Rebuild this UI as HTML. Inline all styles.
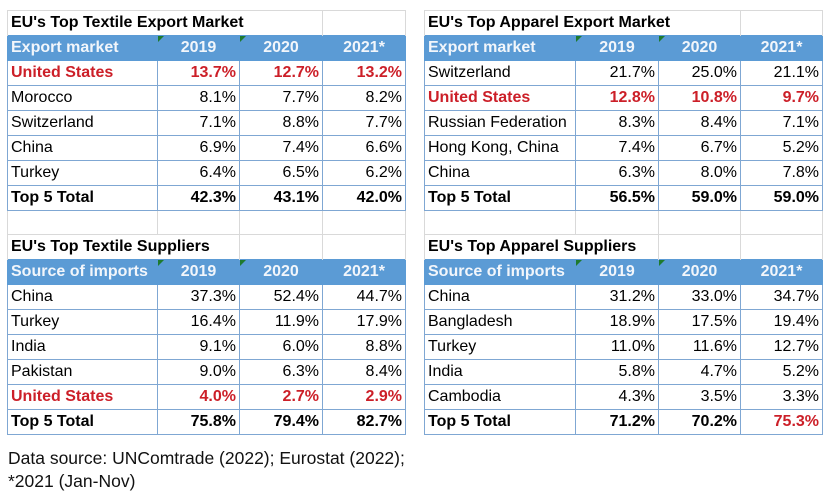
<!DOCTYPE html>
<html><head><meta charset="utf-8"><style>
body{margin:0;width:833px;height:499px;background:#fff;font-family:"Liberation Sans",sans-serif;position:relative;overflow:hidden}
table{position:absolute;border-collapse:collapse;table-layout:fixed;font-size:16px;color:#000}
td{padding:0 3px;height:24px;line-height:24px;white-space:nowrap;overflow:visible;border:1px solid #7fa7d3}
td.n{text-align:right}
tr.t td{border:1px solid #d9d9d9;border-bottom:none;font-weight:bold;height:23px}
tr.b td{border:1px solid #d9d9d9;border-top:none;border-bottom:none;height:23px}
tr.h td{background:#5b9bd5;color:#f2f6fb;font-weight:bold;border-color:#5b9bd5;position:relative}
tr.h td.c{text-align:center}
tr.r td{color:#cc1f28;font-weight:bold}
tr.s td{font-weight:bold}
td.red{color:#cc1f28}
.tri{position:absolute;left:0;top:0;width:0;height:0;border-top:6px solid #1e7a2e;border-right:6px solid transparent}
.foot{position:absolute;left:8px;font-size:17.5px;color:#111}
</style></head><body>

<table style="left:7px;top:10px;width:398px">
<colgroup><col style="width:150px"><col style="width:82px"><col style="width:83px"><col style="width:83px"></colgroup>
<tr class="t"><td colspan="3" style="border-right:1px solid #d9d9d9">EU's Top Textile Export Market</td><td></td></tr>
<tr class="h"><td>Export market</td><td class="c"><span class="tri"></span>2019</td><td class="c"><span class="tri"></span>2020</td><td class="c">2021*</td></tr>
<tr class="r"><td>United States</td><td class="n">13.7%</td><td class="n">12.7%</td><td class="n">13.2%</td></tr>
<tr><td>Morocco</td><td class="n">8.1%</td><td class="n">7.7%</td><td class="n">8.2%</td></tr>
<tr><td>Switzerland</td><td class="n">7.1%</td><td class="n">8.8%</td><td class="n">7.7%</td></tr>
<tr><td>China</td><td class="n">6.9%</td><td class="n">7.4%</td><td class="n">6.6%</td></tr>
<tr><td>Turkey</td><td class="n">6.4%</td><td class="n">6.5%</td><td class="n">6.2%</td></tr>
<tr class="s"><td>Top 5 Total</td><td class="n">42.3%</td><td class="n">43.1%</td><td class="n">42.0%</td></tr>
<tr class="b"><td></td><td></td><td></td><td></td></tr>
<tr class="t"><td colspan="2">EU's Top Textile Suppliers</td><td></td><td></td></tr>
<tr class="h"><td>Source of imports</td><td class="c"><span class="tri"></span>2019</td><td class="c"><span class="tri"></span>2020</td><td class="c">2021*</td></tr>
<tr><td>China</td><td class="n">37.3%</td><td class="n">52.4%</td><td class="n">44.7%</td></tr>
<tr><td>Turkey</td><td class="n">16.4%</td><td class="n">11.9%</td><td class="n">17.9%</td></tr>
<tr><td>India</td><td class="n">9.1%</td><td class="n">6.0%</td><td class="n">8.8%</td></tr>
<tr><td>Pakistan</td><td class="n">9.0%</td><td class="n">6.3%</td><td class="n">8.4%</td></tr>
<tr class="r"><td>United States</td><td class="n">4.0%</td><td class="n">2.7%</td><td class="n">2.9%</td></tr>
<tr class="s"><td>Top 5 Total</td><td class="n">75.8%</td><td class="n">79.4%</td><td class="n">82.7%</td></tr>
</table>

<table style="left:424px;top:10px;width:398px">
<colgroup><col style="width:151px"><col style="width:83px"><col style="width:82px"><col style="width:82px"></colgroup>
<tr class="t"><td colspan="3" style="border-right:1px solid #d9d9d9">EU's Top Apparel Export Market</td><td></td></tr>
<tr class="h"><td>Export market</td><td class="c"><span class="tri"></span>2019</td><td class="c"><span class="tri"></span>2020</td><td class="c">2021*</td></tr>
<tr><td>Switzerland</td><td class="n">21.7%</td><td class="n">25.0%</td><td class="n">21.1%</td></tr>
<tr class="r"><td>United States</td><td class="n">12.8%</td><td class="n">10.8%</td><td class="n">9.7%</td></tr>
<tr><td>Russian Federation</td><td class="n">8.3%</td><td class="n">8.4%</td><td class="n">7.1%</td></tr>
<tr><td>Hong Kong, China</td><td class="n">7.4%</td><td class="n">6.7%</td><td class="n">5.2%</td></tr>
<tr><td>China</td><td class="n">6.3%</td><td class="n">8.0%</td><td class="n">7.8%</td></tr>
<tr class="s"><td>Top 5 Total</td><td class="n">56.5%</td><td class="n">59.0%</td><td class="n">59.0%</td></tr>
<tr class="b"><td></td><td></td><td></td><td></td></tr>
<tr class="t"><td colspan="2">EU's Top Apparel Suppliers</td><td></td><td></td></tr>
<tr class="h"><td>Source of imports</td><td class="c"><span class="tri"></span>2019</td><td class="c"><span class="tri"></span>2020</td><td class="c">2021*</td></tr>
<tr><td>China</td><td class="n">31.2%</td><td class="n">33.0%</td><td class="n">34.7%</td></tr>
<tr><td>Bangladesh</td><td class="n">18.9%</td><td class="n">17.5%</td><td class="n">19.4%</td></tr>
<tr><td>Turkey</td><td class="n">11.0%</td><td class="n">11.6%</td><td class="n">12.7%</td></tr>
<tr><td>India</td><td class="n">5.8%</td><td class="n">4.7%</td><td class="n">5.2%</td></tr>
<tr><td>Cambodia</td><td class="n">4.3%</td><td class="n">3.5%</td><td class="n">3.3%</td></tr>
<tr class="s"><td>Top 5 Total</td><td class="n">71.2%</td><td class="n">70.2%</td><td class="n red">75.3%</td></tr>
</table>

<div class="foot" style="top:448px">Data source: UNComtrade (2022); Eurostat (2022);</div>
<div class="foot" style="top:471px">*2021 (Jan-Nov)</div>
</body></html>
